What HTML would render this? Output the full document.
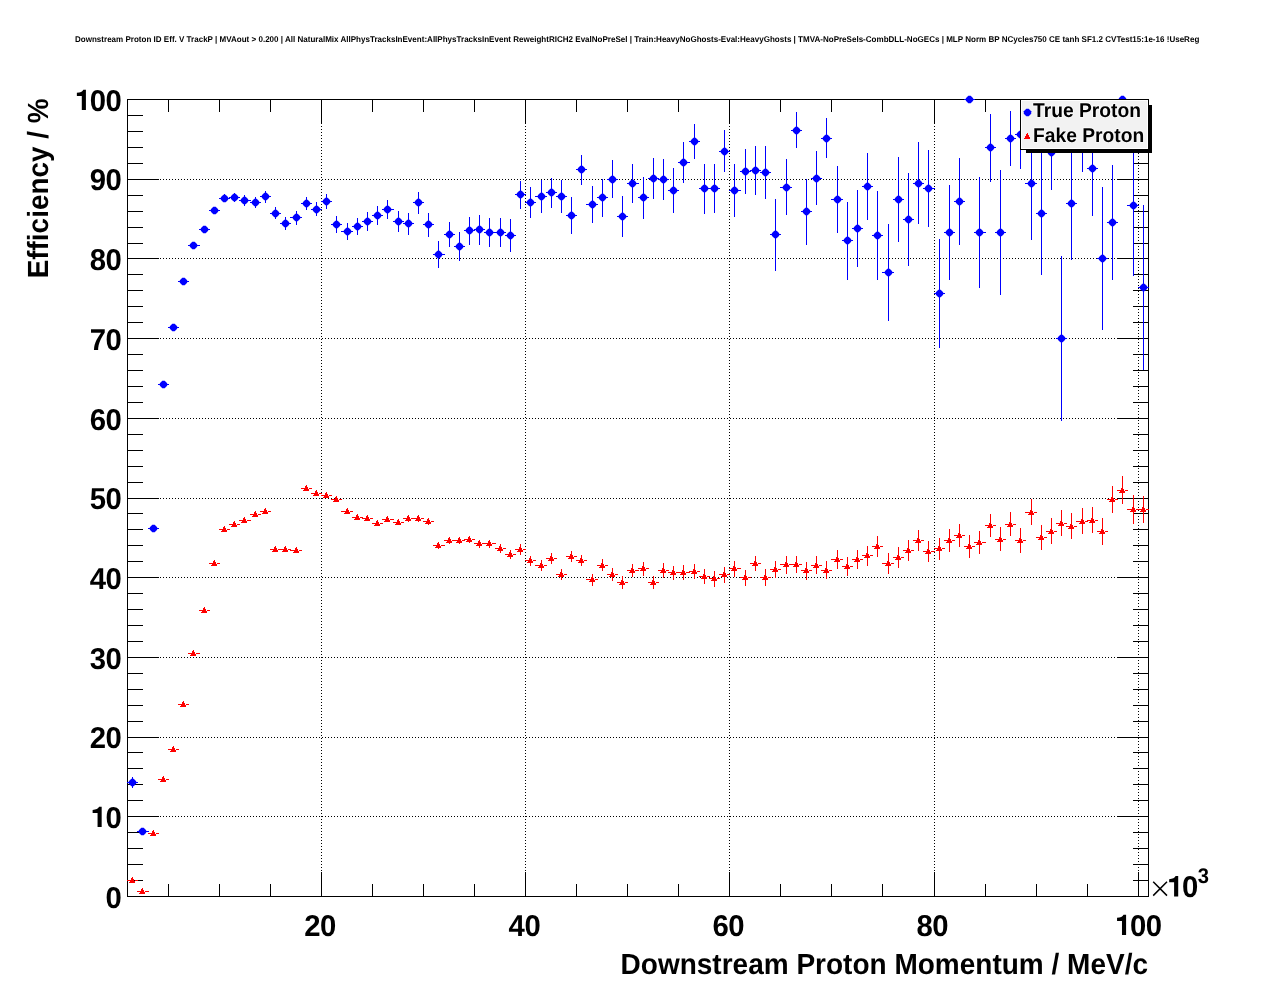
<!DOCTYPE html>
<html><head><meta charset="utf-8"><title>plot</title>
<style>html,body{margin:0;padding:0;background:#fff;overflow:hidden}body{width:1276px;height:996px;position:relative;font-family:"Liberation Sans",sans-serif}</style>
</head><body>
<svg width="1276" height="996" viewBox="0 0 1276 996" style="position:absolute;left:0;top:0;display:block;will-change:transform">
<rect x="0" y="0" width="1276" height="996" fill="#fff"/>
<g stroke="#000" stroke-width="1" stroke-dasharray="1 2" shape-rendering="crispEdges" fill="none"><line x1="321.5" y1="99" x2="321.5" y2="896" /><line x1="525.5" y1="99" x2="525.5" y2="896" /><line x1="729.5" y1="99" x2="729.5" y2="896" /><line x1="934.5" y1="99" x2="934.5" y2="896" /><line x1="1138.5" y1="99" x2="1138.5" y2="896" /><line x1="127" y1="816.5" x2="1148" y2="816.5" /><line x1="127" y1="737.5" x2="1148" y2="737.5" /><line x1="127" y1="657.5" x2="1148" y2="657.5" /><line x1="127" y1="577.5" x2="1148" y2="577.5" /><line x1="127" y1="498.5" x2="1148" y2="498.5" /><line x1="127" y1="418.5" x2="1148" y2="418.5" /><line x1="127" y1="338.5" x2="1148" y2="338.5" /><line x1="127" y1="258.5" x2="1148" y2="258.5" /><line x1="127" y1="179.5" x2="1148" y2="179.5" /></g>
<g shape-rendering="crispEdges"><rect x="127" y="99" width="1022" height="1" fill="#000"/><rect x="127" y="896" width="1022" height="1" fill="#000"/><rect x="127" y="99" width="1" height="798" fill="#000"/><rect x="1148" y="99" width="1" height="798" fill="#000"/><rect x="168" y="884" width="1" height="13" fill="#000"/><rect x="168" y="99" width="1" height="13" fill="#000"/><rect x="219" y="884" width="1" height="13" fill="#000"/><rect x="219" y="99" width="1" height="13" fill="#000"/><rect x="270" y="884" width="1" height="13" fill="#000"/><rect x="270" y="99" width="1" height="13" fill="#000"/><rect x="321" y="872" width="1" height="25" fill="#000"/><rect x="321" y="99" width="1" height="25" fill="#000"/><rect x="372" y="884" width="1" height="13" fill="#000"/><rect x="372" y="99" width="1" height="13" fill="#000"/><rect x="423" y="884" width="1" height="13" fill="#000"/><rect x="423" y="99" width="1" height="13" fill="#000"/><rect x="474" y="884" width="1" height="13" fill="#000"/><rect x="474" y="99" width="1" height="13" fill="#000"/><rect x="525" y="872" width="1" height="25" fill="#000"/><rect x="525" y="99" width="1" height="25" fill="#000"/><rect x="576" y="884" width="1" height="13" fill="#000"/><rect x="576" y="99" width="1" height="13" fill="#000"/><rect x="627" y="884" width="1" height="13" fill="#000"/><rect x="627" y="99" width="1" height="13" fill="#000"/><rect x="678" y="884" width="1" height="13" fill="#000"/><rect x="678" y="99" width="1" height="13" fill="#000"/><rect x="729" y="872" width="1" height="25" fill="#000"/><rect x="729" y="99" width="1" height="25" fill="#000"/><rect x="780" y="884" width="1" height="13" fill="#000"/><rect x="780" y="99" width="1" height="13" fill="#000"/><rect x="831" y="884" width="1" height="13" fill="#000"/><rect x="831" y="99" width="1" height="13" fill="#000"/><rect x="882" y="884" width="1" height="13" fill="#000"/><rect x="882" y="99" width="1" height="13" fill="#000"/><rect x="934" y="872" width="1" height="25" fill="#000"/><rect x="934" y="99" width="1" height="25" fill="#000"/><rect x="985" y="884" width="1" height="13" fill="#000"/><rect x="985" y="99" width="1" height="13" fill="#000"/><rect x="1036" y="884" width="1" height="13" fill="#000"/><rect x="1036" y="99" width="1" height="13" fill="#000"/><rect x="1087" y="884" width="1" height="13" fill="#000"/><rect x="1087" y="99" width="1" height="13" fill="#000"/><rect x="1138" y="872" width="1" height="25" fill="#000"/><rect x="1138" y="99" width="1" height="25" fill="#000"/><rect x="127" y="896" width="32" height="1" fill="#000"/><rect x="1117" y="896" width="32" height="1" fill="#000"/><rect x="127" y="880" width="16" height="1" fill="#000"/><rect x="1133" y="880" width="16" height="1" fill="#000"/><rect x="127" y="864" width="16" height="1" fill="#000"/><rect x="1133" y="864" width="16" height="1" fill="#000"/><rect x="127" y="848" width="16" height="1" fill="#000"/><rect x="1133" y="848" width="16" height="1" fill="#000"/><rect x="127" y="832" width="16" height="1" fill="#000"/><rect x="1133" y="832" width="16" height="1" fill="#000"/><rect x="127" y="816" width="32" height="1" fill="#000"/><rect x="1117" y="816" width="32" height="1" fill="#000"/><rect x="127" y="800" width="16" height="1" fill="#000"/><rect x="1133" y="800" width="16" height="1" fill="#000"/><rect x="127" y="784" width="16" height="1" fill="#000"/><rect x="1133" y="784" width="16" height="1" fill="#000"/><rect x="127" y="768" width="16" height="1" fill="#000"/><rect x="1133" y="768" width="16" height="1" fill="#000"/><rect x="127" y="752" width="16" height="1" fill="#000"/><rect x="1133" y="752" width="16" height="1" fill="#000"/><rect x="127" y="737" width="32" height="1" fill="#000"/><rect x="1117" y="737" width="32" height="1" fill="#000"/><rect x="127" y="721" width="16" height="1" fill="#000"/><rect x="1133" y="721" width="16" height="1" fill="#000"/><rect x="127" y="705" width="16" height="1" fill="#000"/><rect x="1133" y="705" width="16" height="1" fill="#000"/><rect x="127" y="689" width="16" height="1" fill="#000"/><rect x="1133" y="689" width="16" height="1" fill="#000"/><rect x="127" y="673" width="16" height="1" fill="#000"/><rect x="1133" y="673" width="16" height="1" fill="#000"/><rect x="127" y="657" width="32" height="1" fill="#000"/><rect x="1117" y="657" width="32" height="1" fill="#000"/><rect x="127" y="641" width="16" height="1" fill="#000"/><rect x="1133" y="641" width="16" height="1" fill="#000"/><rect x="127" y="625" width="16" height="1" fill="#000"/><rect x="1133" y="625" width="16" height="1" fill="#000"/><rect x="127" y="609" width="16" height="1" fill="#000"/><rect x="1133" y="609" width="16" height="1" fill="#000"/><rect x="127" y="593" width="16" height="1" fill="#000"/><rect x="1133" y="593" width="16" height="1" fill="#000"/><rect x="127" y="577" width="32" height="1" fill="#000"/><rect x="1117" y="577" width="32" height="1" fill="#000"/><rect x="127" y="561" width="16" height="1" fill="#000"/><rect x="1133" y="561" width="16" height="1" fill="#000"/><rect x="127" y="545" width="16" height="1" fill="#000"/><rect x="1133" y="545" width="16" height="1" fill="#000"/><rect x="127" y="529" width="16" height="1" fill="#000"/><rect x="1133" y="529" width="16" height="1" fill="#000"/><rect x="127" y="513" width="16" height="1" fill="#000"/><rect x="1133" y="513" width="16" height="1" fill="#000"/><rect x="127" y="498" width="32" height="1" fill="#000"/><rect x="1117" y="498" width="32" height="1" fill="#000"/><rect x="127" y="482" width="16" height="1" fill="#000"/><rect x="1133" y="482" width="16" height="1" fill="#000"/><rect x="127" y="466" width="16" height="1" fill="#000"/><rect x="1133" y="466" width="16" height="1" fill="#000"/><rect x="127" y="450" width="16" height="1" fill="#000"/><rect x="1133" y="450" width="16" height="1" fill="#000"/><rect x="127" y="434" width="16" height="1" fill="#000"/><rect x="1133" y="434" width="16" height="1" fill="#000"/><rect x="127" y="418" width="32" height="1" fill="#000"/><rect x="1117" y="418" width="32" height="1" fill="#000"/><rect x="127" y="402" width="16" height="1" fill="#000"/><rect x="1133" y="402" width="16" height="1" fill="#000"/><rect x="127" y="386" width="16" height="1" fill="#000"/><rect x="1133" y="386" width="16" height="1" fill="#000"/><rect x="127" y="370" width="16" height="1" fill="#000"/><rect x="1133" y="370" width="16" height="1" fill="#000"/><rect x="127" y="354" width="16" height="1" fill="#000"/><rect x="1133" y="354" width="16" height="1" fill="#000"/><rect x="127" y="338" width="32" height="1" fill="#000"/><rect x="1117" y="338" width="32" height="1" fill="#000"/><rect x="127" y="322" width="16" height="1" fill="#000"/><rect x="1133" y="322" width="16" height="1" fill="#000"/><rect x="127" y="306" width="16" height="1" fill="#000"/><rect x="1133" y="306" width="16" height="1" fill="#000"/><rect x="127" y="290" width="16" height="1" fill="#000"/><rect x="1133" y="290" width="16" height="1" fill="#000"/><rect x="127" y="274" width="16" height="1" fill="#000"/><rect x="1133" y="274" width="16" height="1" fill="#000"/><rect x="127" y="258" width="32" height="1" fill="#000"/><rect x="1117" y="258" width="32" height="1" fill="#000"/><rect x="127" y="243" width="16" height="1" fill="#000"/><rect x="1133" y="243" width="16" height="1" fill="#000"/><rect x="127" y="227" width="16" height="1" fill="#000"/><rect x="1133" y="227" width="16" height="1" fill="#000"/><rect x="127" y="211" width="16" height="1" fill="#000"/><rect x="1133" y="211" width="16" height="1" fill="#000"/><rect x="127" y="195" width="16" height="1" fill="#000"/><rect x="1133" y="195" width="16" height="1" fill="#000"/><rect x="127" y="179" width="32" height="1" fill="#000"/><rect x="1117" y="179" width="32" height="1" fill="#000"/><rect x="127" y="163" width="16" height="1" fill="#000"/><rect x="1133" y="163" width="16" height="1" fill="#000"/><rect x="127" y="147" width="16" height="1" fill="#000"/><rect x="1133" y="147" width="16" height="1" fill="#000"/><rect x="127" y="131" width="16" height="1" fill="#000"/><rect x="1133" y="131" width="16" height="1" fill="#000"/><rect x="127" y="115" width="16" height="1" fill="#000"/><rect x="1133" y="115" width="16" height="1" fill="#000"/><rect x="127" y="99" width="32" height="1" fill="#000"/><rect x="1117" y="99" width="32" height="1" fill="#000"/></g>
<g shape-rendering="crispEdges"><rect x="127" y="782" width="11" height="1" fill="#0000ff"/><rect x="132" y="777" width="1" height="11" fill="#0000ff"/><rect x="137" y="831" width="12" height="1" fill="#0000ff"/><rect x="142" y="828" width="1" height="6" fill="#0000ff"/><rect x="148" y="528" width="11" height="1" fill="#0000ff"/><rect x="153" y="525" width="1" height="6" fill="#0000ff"/><rect x="158" y="384" width="11" height="1" fill="#0000ff"/><rect x="163" y="381" width="1" height="6" fill="#0000ff"/><rect x="168" y="327" width="11" height="1" fill="#0000ff"/><rect x="173" y="325" width="1" height="6" fill="#0000ff"/><rect x="178" y="281" width="11" height="1" fill="#0000ff"/><rect x="183" y="279" width="1" height="6" fill="#0000ff"/><rect x="188" y="245" width="12" height="1" fill="#0000ff"/><rect x="193" y="243" width="1" height="6" fill="#0000ff"/><rect x="199" y="229" width="11" height="1" fill="#0000ff"/><rect x="204" y="227" width="1" height="6" fill="#0000ff"/><rect x="209" y="210" width="11" height="1" fill="#0000ff"/><rect x="214" y="207" width="1" height="7" fill="#0000ff"/><rect x="219" y="198" width="11" height="1" fill="#0000ff"/><rect x="224" y="194" width="1" height="8" fill="#0000ff"/><rect x="229" y="197" width="11" height="1" fill="#0000ff"/><rect x="234" y="193" width="1" height="9" fill="#0000ff"/><rect x="239" y="200" width="12" height="1" fill="#0000ff"/><rect x="244" y="195" width="1" height="11" fill="#0000ff"/><rect x="250" y="202" width="11" height="1" fill="#0000ff"/><rect x="255" y="197" width="1" height="11" fill="#0000ff"/><rect x="260" y="196" width="11" height="1" fill="#0000ff"/><rect x="265" y="191" width="1" height="12" fill="#0000ff"/><rect x="270" y="213" width="11" height="1" fill="#0000ff"/><rect x="275" y="207" width="1" height="12" fill="#0000ff"/><rect x="280" y="223" width="11" height="1" fill="#0000ff"/><rect x="285" y="217" width="1" height="13" fill="#0000ff"/><rect x="290" y="217" width="12" height="1" fill="#0000ff"/><rect x="296" y="211" width="1" height="14" fill="#0000ff"/><rect x="301" y="203" width="11" height="1" fill="#0000ff"/><rect x="306" y="197" width="1" height="13" fill="#0000ff"/><rect x="311" y="209" width="11" height="1" fill="#0000ff"/><rect x="316" y="202" width="1" height="14" fill="#0000ff"/><rect x="321" y="201" width="11" height="1" fill="#0000ff"/><rect x="326" y="194" width="1" height="15" fill="#0000ff"/><rect x="331" y="224" width="11" height="1" fill="#0000ff"/><rect x="336" y="216" width="1" height="17" fill="#0000ff"/><rect x="341" y="231" width="12" height="1" fill="#0000ff"/><rect x="347" y="223" width="1" height="17" fill="#0000ff"/><rect x="352" y="226" width="11" height="1" fill="#0000ff"/><rect x="357" y="218" width="1" height="17" fill="#0000ff"/><rect x="362" y="221" width="11" height="1" fill="#0000ff"/><rect x="367" y="212" width="1" height="19" fill="#0000ff"/><rect x="372" y="215" width="11" height="1" fill="#0000ff"/><rect x="377" y="206" width="1" height="19" fill="#0000ff"/><rect x="382" y="209" width="12" height="1" fill="#0000ff"/><rect x="387" y="200" width="1" height="19" fill="#0000ff"/><rect x="393" y="221" width="11" height="1" fill="#0000ff"/><rect x="398" y="211" width="1" height="21" fill="#0000ff"/><rect x="403" y="223" width="11" height="1" fill="#0000ff"/><rect x="408" y="213" width="1" height="22" fill="#0000ff"/><rect x="413" y="202" width="11" height="1" fill="#0000ff"/><rect x="418" y="192" width="1" height="22" fill="#0000ff"/><rect x="423" y="224" width="11" height="1" fill="#0000ff"/><rect x="428" y="213" width="1" height="24" fill="#0000ff"/><rect x="433" y="254" width="12" height="1" fill="#0000ff"/><rect x="438" y="241" width="1" height="27" fill="#0000ff"/><rect x="444" y="234" width="11" height="1" fill="#0000ff"/><rect x="449" y="222" width="1" height="25" fill="#0000ff"/><rect x="454" y="246" width="11" height="1" fill="#0000ff"/><rect x="459" y="232" width="1" height="29" fill="#0000ff"/><rect x="464" y="230" width="11" height="1" fill="#0000ff"/><rect x="469" y="217" width="1" height="28" fill="#0000ff"/><rect x="474" y="229" width="11" height="1" fill="#0000ff"/><rect x="479" y="215" width="1" height="30" fill="#0000ff"/><rect x="484" y="232" width="12" height="1" fill="#0000ff"/><rect x="489" y="218" width="1" height="29" fill="#0000ff"/><rect x="495" y="232" width="11" height="1" fill="#0000ff"/><rect x="500" y="218" width="1" height="29" fill="#0000ff"/><rect x="505" y="235" width="11" height="1" fill="#0000ff"/><rect x="510" y="219" width="1" height="33" fill="#0000ff"/><rect x="515" y="194" width="11" height="1" fill="#0000ff"/><rect x="520" y="181" width="1" height="28" fill="#0000ff"/><rect x="525" y="202" width="11" height="1" fill="#0000ff"/><rect x="530" y="187" width="1" height="31" fill="#0000ff"/><rect x="535" y="196" width="12" height="1" fill="#0000ff"/><rect x="541" y="180" width="1" height="33" fill="#0000ff"/><rect x="546" y="192" width="11" height="1" fill="#0000ff"/><rect x="551" y="178" width="1" height="30" fill="#0000ff"/><rect x="556" y="196" width="11" height="1" fill="#0000ff"/><rect x="561" y="180" width="1" height="33" fill="#0000ff"/><rect x="566" y="215" width="11" height="1" fill="#0000ff"/><rect x="571" y="197" width="1" height="37" fill="#0000ff"/><rect x="576" y="169" width="11" height="1" fill="#0000ff"/><rect x="581" y="155" width="1" height="30" fill="#0000ff"/><rect x="586" y="204" width="12" height="1" fill="#0000ff"/><rect x="592" y="186" width="1" height="37" fill="#0000ff"/><rect x="597" y="197" width="11" height="1" fill="#0000ff"/><rect x="602" y="179" width="1" height="38" fill="#0000ff"/><rect x="607" y="179" width="11" height="1" fill="#0000ff"/><rect x="612" y="160" width="1" height="38" fill="#0000ff"/><rect x="617" y="216" width="11" height="1" fill="#0000ff"/><rect x="622" y="196" width="1" height="41" fill="#0000ff"/><rect x="627" y="183" width="12" height="1" fill="#0000ff"/><rect x="632" y="164" width="1" height="39" fill="#0000ff"/><rect x="638" y="197" width="11" height="1" fill="#0000ff"/><rect x="643" y="177" width="1" height="42" fill="#0000ff"/><rect x="648" y="178" width="11" height="1" fill="#0000ff"/><rect x="653" y="158" width="1" height="41" fill="#0000ff"/><rect x="658" y="179" width="11" height="1" fill="#0000ff"/><rect x="663" y="159" width="1" height="41" fill="#0000ff"/><rect x="668" y="190" width="11" height="1" fill="#0000ff"/><rect x="673" y="168" width="1" height="45" fill="#0000ff"/><rect x="678" y="162" width="12" height="1" fill="#0000ff"/><rect x="683" y="142" width="1" height="41" fill="#0000ff"/><rect x="689" y="141" width="11" height="1" fill="#0000ff"/><rect x="694" y="124" width="1" height="35" fill="#0000ff"/><rect x="699" y="188" width="11" height="1" fill="#0000ff"/><rect x="704" y="164" width="1" height="50" fill="#0000ff"/><rect x="709" y="188" width="11" height="1" fill="#0000ff"/><rect x="714" y="164" width="1" height="49" fill="#0000ff"/><rect x="719" y="151" width="11" height="1" fill="#0000ff"/><rect x="724" y="130" width="1" height="42" fill="#0000ff"/><rect x="729" y="190" width="12" height="1" fill="#0000ff"/><rect x="734" y="164" width="1" height="53" fill="#0000ff"/><rect x="740" y="171" width="11" height="1" fill="#0000ff"/><rect x="745" y="149" width="1" height="45" fill="#0000ff"/><rect x="750" y="170" width="11" height="1" fill="#0000ff"/><rect x="755" y="146" width="1" height="49" fill="#0000ff"/><rect x="760" y="172" width="11" height="1" fill="#0000ff"/><rect x="765" y="146" width="1" height="53" fill="#0000ff"/><rect x="770" y="234" width="11" height="1" fill="#0000ff"/><rect x="775" y="199" width="1" height="72" fill="#0000ff"/><rect x="780" y="187" width="12" height="1" fill="#0000ff"/><rect x="786" y="159" width="1" height="56" fill="#0000ff"/><rect x="791" y="130" width="11" height="1" fill="#0000ff"/><rect x="796" y="112" width="1" height="36" fill="#0000ff"/><rect x="801" y="211" width="11" height="1" fill="#0000ff"/><rect x="806" y="179" width="1" height="66" fill="#0000ff"/><rect x="811" y="178" width="11" height="1" fill="#0000ff"/><rect x="816" y="151" width="1" height="54" fill="#0000ff"/><rect x="821" y="138" width="11" height="1" fill="#0000ff"/><rect x="826" y="118" width="1" height="40" fill="#0000ff"/><rect x="831" y="199" width="12" height="1" fill="#0000ff"/><rect x="837" y="166" width="1" height="67" fill="#0000ff"/><rect x="842" y="240" width="11" height="1" fill="#0000ff"/><rect x="847" y="202" width="1" height="78" fill="#0000ff"/><rect x="852" y="228" width="11" height="1" fill="#0000ff"/><rect x="857" y="190" width="1" height="77" fill="#0000ff"/><rect x="862" y="186" width="11" height="1" fill="#0000ff"/><rect x="867" y="153" width="1" height="67" fill="#0000ff"/><rect x="872" y="235" width="11" height="1" fill="#0000ff"/><rect x="877" y="191" width="1" height="89" fill="#0000ff"/><rect x="882" y="272" width="12" height="1" fill="#0000ff"/><rect x="888" y="224" width="1" height="97" fill="#0000ff"/><rect x="893" y="199" width="11" height="1" fill="#0000ff"/><rect x="898" y="157" width="1" height="85" fill="#0000ff"/><rect x="903" y="219" width="11" height="1" fill="#0000ff"/><rect x="908" y="173" width="1" height="93" fill="#0000ff"/><rect x="913" y="183" width="11" height="1" fill="#0000ff"/><rect x="918" y="142" width="1" height="82" fill="#0000ff"/><rect x="923" y="188" width="12" height="1" fill="#0000ff"/><rect x="928" y="150" width="1" height="77" fill="#0000ff"/><rect x="934" y="293" width="11" height="1" fill="#0000ff"/><rect x="939" y="239" width="1" height="109" fill="#0000ff"/><rect x="944" y="232" width="11" height="1" fill="#0000ff"/><rect x="949" y="185" width="1" height="95" fill="#0000ff"/><rect x="954" y="201" width="11" height="1" fill="#0000ff"/><rect x="959" y="158" width="1" height="87" fill="#0000ff"/><rect x="964" y="99" width="11" height="1" fill="#0000ff"/><rect x="974" y="232" width="12" height="1" fill="#0000ff"/><rect x="979" y="177" width="1" height="111" fill="#0000ff"/><rect x="985" y="147" width="11" height="1" fill="#0000ff"/><rect x="990" y="114" width="1" height="68" fill="#0000ff"/><rect x="995" y="232" width="11" height="1" fill="#0000ff"/><rect x="1000" y="170" width="1" height="125" fill="#0000ff"/><rect x="1005" y="138" width="11" height="1" fill="#0000ff"/><rect x="1010" y="111" width="1" height="55" fill="#0000ff"/><rect x="1015" y="134" width="11" height="1" fill="#0000ff"/><rect x="1020" y="99" width="1" height="70" fill="#0000ff"/><rect x="1025" y="183" width="12" height="1" fill="#0000ff"/><rect x="1031" y="126" width="1" height="114" fill="#0000ff"/><rect x="1036" y="213" width="11" height="1" fill="#0000ff"/><rect x="1041" y="152" width="1" height="123" fill="#0000ff"/><rect x="1046" y="152" width="11" height="1" fill="#0000ff"/><rect x="1051" y="116" width="1" height="74" fill="#0000ff"/><rect x="1056" y="338" width="11" height="1" fill="#0000ff"/><rect x="1061" y="256" width="1" height="165" fill="#0000ff"/><rect x="1066" y="203" width="11" height="1" fill="#0000ff"/><rect x="1071" y="147" width="1" height="113" fill="#0000ff"/><rect x="1076" y="132" width="12" height="1" fill="#0000ff"/><rect x="1082" y="99" width="1" height="73" fill="#0000ff"/><rect x="1087" y="168" width="11" height="1" fill="#0000ff"/><rect x="1092" y="120" width="1" height="96" fill="#0000ff"/><rect x="1097" y="258" width="11" height="1" fill="#0000ff"/><rect x="1102" y="187" width="1" height="143" fill="#0000ff"/><rect x="1107" y="222" width="11" height="1" fill="#0000ff"/><rect x="1112" y="165" width="1" height="115" fill="#0000ff"/><rect x="1117" y="99" width="11" height="1" fill="#0000ff"/><rect x="1127" y="205" width="12" height="1" fill="#0000ff"/><rect x="1133" y="135" width="1" height="141" fill="#0000ff"/><rect x="1138" y="287" width="11" height="1" fill="#0000ff"/><rect x="1143" y="205" width="1" height="165" fill="#0000ff"/><rect x="127" y="880" width="3" height="1" fill="#ff0000"/><rect x="135" y="880" width="3" height="1" fill="#ff0000"/><rect x="132" y="878" width="1" height="5" fill="#ff0000"/><rect x="137" y="891" width="3" height="1" fill="#ff0000"/><rect x="145" y="891" width="4" height="1" fill="#ff0000"/><rect x="142" y="890" width="1" height="3" fill="#ff0000"/><rect x="148" y="833" width="3" height="1" fill="#ff0000"/><rect x="156" y="833" width="3" height="1" fill="#ff0000"/><rect x="153" y="832" width="1" height="4" fill="#ff0000"/><rect x="158" y="779" width="3" height="1" fill="#ff0000"/><rect x="166" y="779" width="3" height="1" fill="#ff0000"/><rect x="163" y="777" width="1" height="5" fill="#ff0000"/><rect x="168" y="749" width="3" height="1" fill="#ff0000"/><rect x="176" y="749" width="3" height="1" fill="#ff0000"/><rect x="173" y="747" width="1" height="5" fill="#ff0000"/><rect x="178" y="704" width="3" height="1" fill="#ff0000"/><rect x="186" y="704" width="3" height="1" fill="#ff0000"/><rect x="183" y="702" width="1" height="5" fill="#ff0000"/><rect x="188" y="653" width="3" height="1" fill="#ff0000"/><rect x="196" y="653" width="4" height="1" fill="#ff0000"/><rect x="193" y="651" width="1" height="4" fill="#ff0000"/><rect x="199" y="610" width="3" height="1" fill="#ff0000"/><rect x="207" y="610" width="3" height="1" fill="#ff0000"/><rect x="204" y="608" width="1" height="5" fill="#ff0000"/><rect x="209" y="563" width="3" height="1" fill="#ff0000"/><rect x="217" y="563" width="3" height="1" fill="#ff0000"/><rect x="214" y="561" width="1" height="5" fill="#ff0000"/><rect x="219" y="529" width="3" height="1" fill="#ff0000"/><rect x="227" y="529" width="3" height="1" fill="#ff0000"/><rect x="224" y="527" width="1" height="4" fill="#ff0000"/><rect x="229" y="524" width="3" height="1" fill="#ff0000"/><rect x="237" y="524" width="3" height="1" fill="#ff0000"/><rect x="234" y="522" width="1" height="4" fill="#ff0000"/><rect x="239" y="520" width="3" height="1" fill="#ff0000"/><rect x="247" y="520" width="4" height="1" fill="#ff0000"/><rect x="244" y="518" width="1" height="4" fill="#ff0000"/><rect x="250" y="514" width="3" height="1" fill="#ff0000"/><rect x="258" y="514" width="3" height="1" fill="#ff0000"/><rect x="255" y="512" width="1" height="4" fill="#ff0000"/><rect x="260" y="511" width="3" height="1" fill="#ff0000"/><rect x="268" y="511" width="3" height="1" fill="#ff0000"/><rect x="265" y="509" width="1" height="4" fill="#ff0000"/><rect x="270" y="549" width="3" height="1" fill="#ff0000"/><rect x="278" y="549" width="3" height="1" fill="#ff0000"/><rect x="275" y="547" width="1" height="5" fill="#ff0000"/><rect x="280" y="549" width="3" height="1" fill="#ff0000"/><rect x="288" y="549" width="3" height="1" fill="#ff0000"/><rect x="285" y="547" width="1" height="5" fill="#ff0000"/><rect x="290" y="550" width="4" height="1" fill="#ff0000"/><rect x="299" y="550" width="3" height="1" fill="#ff0000"/><rect x="296" y="548" width="1" height="5" fill="#ff0000"/><rect x="301" y="488" width="3" height="1" fill="#ff0000"/><rect x="309" y="488" width="3" height="1" fill="#ff0000"/><rect x="306" y="486" width="1" height="5" fill="#ff0000"/><rect x="311" y="493" width="3" height="1" fill="#ff0000"/><rect x="319" y="493" width="3" height="1" fill="#ff0000"/><rect x="316" y="491" width="1" height="5" fill="#ff0000"/><rect x="321" y="495" width="3" height="1" fill="#ff0000"/><rect x="329" y="495" width="3" height="1" fill="#ff0000"/><rect x="326" y="493" width="1" height="4" fill="#ff0000"/><rect x="331" y="499" width="3" height="1" fill="#ff0000"/><rect x="339" y="499" width="3" height="1" fill="#ff0000"/><rect x="336" y="497" width="1" height="5" fill="#ff0000"/><rect x="341" y="511" width="4" height="1" fill="#ff0000"/><rect x="350" y="511" width="3" height="1" fill="#ff0000"/><rect x="347" y="509" width="1" height="5" fill="#ff0000"/><rect x="352" y="517" width="3" height="1" fill="#ff0000"/><rect x="360" y="517" width="3" height="1" fill="#ff0000"/><rect x="357" y="515" width="1" height="5" fill="#ff0000"/><rect x="362" y="518" width="3" height="1" fill="#ff0000"/><rect x="370" y="518" width="3" height="1" fill="#ff0000"/><rect x="367" y="516" width="1" height="5" fill="#ff0000"/><rect x="372" y="523" width="3" height="1" fill="#ff0000"/><rect x="380" y="523" width="3" height="1" fill="#ff0000"/><rect x="377" y="521" width="1" height="5" fill="#ff0000"/><rect x="382" y="519" width="3" height="1" fill="#ff0000"/><rect x="390" y="519" width="4" height="1" fill="#ff0000"/><rect x="387" y="517" width="1" height="5" fill="#ff0000"/><rect x="393" y="522" width="3" height="1" fill="#ff0000"/><rect x="401" y="522" width="3" height="1" fill="#ff0000"/><rect x="398" y="520" width="1" height="5" fill="#ff0000"/><rect x="403" y="518" width="3" height="1" fill="#ff0000"/><rect x="411" y="518" width="3" height="1" fill="#ff0000"/><rect x="408" y="516" width="1" height="6" fill="#ff0000"/><rect x="413" y="518" width="3" height="1" fill="#ff0000"/><rect x="421" y="518" width="3" height="1" fill="#ff0000"/><rect x="418" y="516" width="1" height="6" fill="#ff0000"/><rect x="423" y="521" width="3" height="1" fill="#ff0000"/><rect x="431" y="521" width="3" height="1" fill="#ff0000"/><rect x="428" y="519" width="1" height="6" fill="#ff0000"/><rect x="433" y="545" width="3" height="1" fill="#ff0000"/><rect x="441" y="545" width="4" height="1" fill="#ff0000"/><rect x="438" y="542" width="1" height="7" fill="#ff0000"/><rect x="444" y="540" width="3" height="1" fill="#ff0000"/><rect x="452" y="540" width="3" height="1" fill="#ff0000"/><rect x="449" y="537" width="1" height="7" fill="#ff0000"/><rect x="454" y="540" width="3" height="1" fill="#ff0000"/><rect x="462" y="540" width="3" height="1" fill="#ff0000"/><rect x="459" y="537" width="1" height="7" fill="#ff0000"/><rect x="464" y="539" width="3" height="1" fill="#ff0000"/><rect x="472" y="539" width="3" height="1" fill="#ff0000"/><rect x="469" y="536" width="1" height="7" fill="#ff0000"/><rect x="474" y="543" width="3" height="1" fill="#ff0000"/><rect x="482" y="543" width="3" height="1" fill="#ff0000"/><rect x="479" y="540" width="1" height="8" fill="#ff0000"/><rect x="484" y="543" width="3" height="1" fill="#ff0000"/><rect x="492" y="543" width="4" height="1" fill="#ff0000"/><rect x="489" y="540" width="1" height="8" fill="#ff0000"/><rect x="495" y="548" width="3" height="1" fill="#ff0000"/><rect x="503" y="548" width="3" height="1" fill="#ff0000"/><rect x="500" y="544" width="1" height="9" fill="#ff0000"/><rect x="505" y="554" width="3" height="1" fill="#ff0000"/><rect x="513" y="554" width="3" height="1" fill="#ff0000"/><rect x="510" y="550" width="1" height="9" fill="#ff0000"/><rect x="515" y="549" width="3" height="1" fill="#ff0000"/><rect x="523" y="549" width="3" height="1" fill="#ff0000"/><rect x="520" y="544" width="1" height="11" fill="#ff0000"/><rect x="525" y="560" width="3" height="1" fill="#ff0000"/><rect x="533" y="560" width="3" height="1" fill="#ff0000"/><rect x="530" y="556" width="1" height="10" fill="#ff0000"/><rect x="535" y="565" width="4" height="1" fill="#ff0000"/><rect x="544" y="565" width="3" height="1" fill="#ff0000"/><rect x="541" y="560" width="1" height="11" fill="#ff0000"/><rect x="546" y="558" width="3" height="1" fill="#ff0000"/><rect x="554" y="558" width="3" height="1" fill="#ff0000"/><rect x="551" y="553" width="1" height="11" fill="#ff0000"/><rect x="556" y="574" width="3" height="1" fill="#ff0000"/><rect x="564" y="574" width="3" height="1" fill="#ff0000"/><rect x="561" y="569" width="1" height="11" fill="#ff0000"/><rect x="566" y="556" width="3" height="1" fill="#ff0000"/><rect x="574" y="556" width="3" height="1" fill="#ff0000"/><rect x="571" y="551" width="1" height="11" fill="#ff0000"/><rect x="576" y="560" width="3" height="1" fill="#ff0000"/><rect x="584" y="560" width="3" height="1" fill="#ff0000"/><rect x="581" y="555" width="1" height="11" fill="#ff0000"/><rect x="586" y="579" width="4" height="1" fill="#ff0000"/><rect x="595" y="579" width="3" height="1" fill="#ff0000"/><rect x="592" y="574" width="1" height="12" fill="#ff0000"/><rect x="597" y="565" width="3" height="1" fill="#ff0000"/><rect x="605" y="565" width="3" height="1" fill="#ff0000"/><rect x="602" y="559" width="1" height="12" fill="#ff0000"/><rect x="607" y="574" width="3" height="1" fill="#ff0000"/><rect x="615" y="574" width="3" height="1" fill="#ff0000"/><rect x="612" y="568" width="1" height="13" fill="#ff0000"/><rect x="617" y="582" width="3" height="1" fill="#ff0000"/><rect x="625" y="582" width="3" height="1" fill="#ff0000"/><rect x="622" y="576" width="1" height="13" fill="#ff0000"/><rect x="627" y="570" width="3" height="1" fill="#ff0000"/><rect x="635" y="570" width="4" height="1" fill="#ff0000"/><rect x="632" y="564" width="1" height="13" fill="#ff0000"/><rect x="638" y="568" width="3" height="1" fill="#ff0000"/><rect x="646" y="568" width="3" height="1" fill="#ff0000"/><rect x="643" y="562" width="1" height="14" fill="#ff0000"/><rect x="648" y="582" width="3" height="1" fill="#ff0000"/><rect x="656" y="582" width="3" height="1" fill="#ff0000"/><rect x="653" y="576" width="1" height="13" fill="#ff0000"/><rect x="658" y="570" width="3" height="1" fill="#ff0000"/><rect x="666" y="570" width="3" height="1" fill="#ff0000"/><rect x="663" y="563" width="1" height="15" fill="#ff0000"/><rect x="668" y="572" width="3" height="1" fill="#ff0000"/><rect x="676" y="572" width="3" height="1" fill="#ff0000"/><rect x="673" y="566" width="1" height="14" fill="#ff0000"/><rect x="678" y="572" width="3" height="1" fill="#ff0000"/><rect x="686" y="572" width="4" height="1" fill="#ff0000"/><rect x="683" y="565" width="1" height="15" fill="#ff0000"/><rect x="689" y="571" width="3" height="1" fill="#ff0000"/><rect x="697" y="571" width="3" height="1" fill="#ff0000"/><rect x="694" y="564" width="1" height="15" fill="#ff0000"/><rect x="699" y="576" width="3" height="1" fill="#ff0000"/><rect x="707" y="576" width="3" height="1" fill="#ff0000"/><rect x="704" y="569" width="1" height="15" fill="#ff0000"/><rect x="709" y="578" width="3" height="1" fill="#ff0000"/><rect x="717" y="578" width="3" height="1" fill="#ff0000"/><rect x="714" y="571" width="1" height="16" fill="#ff0000"/><rect x="719" y="574" width="3" height="1" fill="#ff0000"/><rect x="727" y="574" width="3" height="1" fill="#ff0000"/><rect x="724" y="567" width="1" height="16" fill="#ff0000"/><rect x="729" y="568" width="3" height="1" fill="#ff0000"/><rect x="737" y="568" width="4" height="1" fill="#ff0000"/><rect x="734" y="561" width="1" height="16" fill="#ff0000"/><rect x="740" y="577" width="3" height="1" fill="#ff0000"/><rect x="748" y="577" width="3" height="1" fill="#ff0000"/><rect x="745" y="570" width="1" height="16" fill="#ff0000"/><rect x="750" y="563" width="3" height="1" fill="#ff0000"/><rect x="758" y="563" width="3" height="1" fill="#ff0000"/><rect x="755" y="556" width="1" height="15" fill="#ff0000"/><rect x="760" y="577" width="3" height="1" fill="#ff0000"/><rect x="768" y="577" width="3" height="1" fill="#ff0000"/><rect x="765" y="569" width="1" height="17" fill="#ff0000"/><rect x="770" y="569" width="3" height="1" fill="#ff0000"/><rect x="778" y="569" width="3" height="1" fill="#ff0000"/><rect x="775" y="561" width="1" height="17" fill="#ff0000"/><rect x="780" y="564" width="4" height="1" fill="#ff0000"/><rect x="789" y="564" width="3" height="1" fill="#ff0000"/><rect x="786" y="556" width="1" height="18" fill="#ff0000"/><rect x="791" y="564" width="3" height="1" fill="#ff0000"/><rect x="799" y="564" width="3" height="1" fill="#ff0000"/><rect x="796" y="556" width="1" height="17" fill="#ff0000"/><rect x="801" y="570" width="3" height="1" fill="#ff0000"/><rect x="809" y="570" width="3" height="1" fill="#ff0000"/><rect x="806" y="562" width="1" height="18" fill="#ff0000"/><rect x="811" y="565" width="3" height="1" fill="#ff0000"/><rect x="819" y="565" width="3" height="1" fill="#ff0000"/><rect x="816" y="556" width="1" height="18" fill="#ff0000"/><rect x="821" y="570" width="3" height="1" fill="#ff0000"/><rect x="829" y="570" width="3" height="1" fill="#ff0000"/><rect x="826" y="561" width="1" height="18" fill="#ff0000"/><rect x="831" y="559" width="4" height="1" fill="#ff0000"/><rect x="840" y="559" width="3" height="1" fill="#ff0000"/><rect x="837" y="550" width="1" height="19" fill="#ff0000"/><rect x="842" y="566" width="3" height="1" fill="#ff0000"/><rect x="850" y="566" width="3" height="1" fill="#ff0000"/><rect x="847" y="557" width="1" height="19" fill="#ff0000"/><rect x="852" y="559" width="3" height="1" fill="#ff0000"/><rect x="860" y="559" width="3" height="1" fill="#ff0000"/><rect x="857" y="550" width="1" height="19" fill="#ff0000"/><rect x="862" y="555" width="3" height="1" fill="#ff0000"/><rect x="870" y="555" width="3" height="1" fill="#ff0000"/><rect x="867" y="546" width="1" height="20" fill="#ff0000"/><rect x="872" y="546" width="3" height="1" fill="#ff0000"/><rect x="880" y="546" width="3" height="1" fill="#ff0000"/><rect x="877" y="536" width="1" height="21" fill="#ff0000"/><rect x="882" y="563" width="4" height="1" fill="#ff0000"/><rect x="891" y="563" width="3" height="1" fill="#ff0000"/><rect x="888" y="553" width="1" height="21" fill="#ff0000"/><rect x="893" y="557" width="3" height="1" fill="#ff0000"/><rect x="901" y="557" width="3" height="1" fill="#ff0000"/><rect x="898" y="547" width="1" height="21" fill="#ff0000"/><rect x="903" y="550" width="3" height="1" fill="#ff0000"/><rect x="911" y="550" width="3" height="1" fill="#ff0000"/><rect x="908" y="540" width="1" height="21" fill="#ff0000"/><rect x="913" y="540" width="3" height="1" fill="#ff0000"/><rect x="921" y="540" width="3" height="1" fill="#ff0000"/><rect x="918" y="530" width="1" height="21" fill="#ff0000"/><rect x="923" y="551" width="3" height="1" fill="#ff0000"/><rect x="931" y="551" width="4" height="1" fill="#ff0000"/><rect x="928" y="541" width="1" height="21" fill="#ff0000"/><rect x="934" y="548" width="3" height="1" fill="#ff0000"/><rect x="942" y="548" width="3" height="1" fill="#ff0000"/><rect x="939" y="538" width="1" height="22" fill="#ff0000"/><rect x="944" y="540" width="3" height="1" fill="#ff0000"/><rect x="952" y="540" width="3" height="1" fill="#ff0000"/><rect x="949" y="529" width="1" height="23" fill="#ff0000"/><rect x="954" y="535" width="3" height="1" fill="#ff0000"/><rect x="962" y="535" width="3" height="1" fill="#ff0000"/><rect x="959" y="524" width="1" height="23" fill="#ff0000"/><rect x="964" y="546" width="3" height="1" fill="#ff0000"/><rect x="972" y="546" width="3" height="1" fill="#ff0000"/><rect x="969" y="535" width="1" height="23" fill="#ff0000"/><rect x="974" y="542" width="3" height="1" fill="#ff0000"/><rect x="982" y="542" width="4" height="1" fill="#ff0000"/><rect x="979" y="531" width="1" height="23" fill="#ff0000"/><rect x="985" y="525" width="3" height="1" fill="#ff0000"/><rect x="993" y="525" width="3" height="1" fill="#ff0000"/><rect x="990" y="514" width="1" height="23" fill="#ff0000"/><rect x="995" y="539" width="3" height="1" fill="#ff0000"/><rect x="1003" y="539" width="3" height="1" fill="#ff0000"/><rect x="1000" y="527" width="1" height="24" fill="#ff0000"/><rect x="1005" y="524" width="3" height="1" fill="#ff0000"/><rect x="1013" y="524" width="3" height="1" fill="#ff0000"/><rect x="1010" y="512" width="1" height="24" fill="#ff0000"/><rect x="1015" y="540" width="3" height="1" fill="#ff0000"/><rect x="1023" y="540" width="3" height="1" fill="#ff0000"/><rect x="1020" y="528" width="1" height="25" fill="#ff0000"/><rect x="1025" y="512" width="4" height="1" fill="#ff0000"/><rect x="1034" y="512" width="3" height="1" fill="#ff0000"/><rect x="1031" y="499" width="1" height="26" fill="#ff0000"/><rect x="1036" y="537" width="3" height="1" fill="#ff0000"/><rect x="1044" y="537" width="3" height="1" fill="#ff0000"/><rect x="1041" y="525" width="1" height="25" fill="#ff0000"/><rect x="1046" y="531" width="3" height="1" fill="#ff0000"/><rect x="1054" y="531" width="3" height="1" fill="#ff0000"/><rect x="1051" y="518" width="1" height="26" fill="#ff0000"/><rect x="1056" y="523" width="3" height="1" fill="#ff0000"/><rect x="1064" y="523" width="3" height="1" fill="#ff0000"/><rect x="1061" y="510" width="1" height="26" fill="#ff0000"/><rect x="1066" y="526" width="3" height="1" fill="#ff0000"/><rect x="1074" y="526" width="3" height="1" fill="#ff0000"/><rect x="1071" y="513" width="1" height="26" fill="#ff0000"/><rect x="1076" y="521" width="4" height="1" fill="#ff0000"/><rect x="1085" y="521" width="3" height="1" fill="#ff0000"/><rect x="1082" y="508" width="1" height="26" fill="#ff0000"/><rect x="1087" y="520" width="3" height="1" fill="#ff0000"/><rect x="1095" y="520" width="3" height="1" fill="#ff0000"/><rect x="1092" y="507" width="1" height="26" fill="#ff0000"/><rect x="1097" y="531" width="3" height="1" fill="#ff0000"/><rect x="1105" y="531" width="3" height="1" fill="#ff0000"/><rect x="1102" y="518" width="1" height="27" fill="#ff0000"/><rect x="1107" y="499" width="3" height="1" fill="#ff0000"/><rect x="1115" y="499" width="3" height="1" fill="#ff0000"/><rect x="1112" y="486" width="1" height="27" fill="#ff0000"/><rect x="1117" y="490" width="3" height="1" fill="#ff0000"/><rect x="1125" y="490" width="3" height="1" fill="#ff0000"/><rect x="1122" y="476" width="1" height="28" fill="#ff0000"/><rect x="1127" y="509" width="4" height="1" fill="#ff0000"/><rect x="1136" y="509" width="3" height="1" fill="#ff0000"/><rect x="1133" y="495" width="1" height="29" fill="#ff0000"/><rect x="1138" y="509" width="3" height="1" fill="#ff0000"/><rect x="1146" y="509" width="3" height="1" fill="#ff0000"/><rect x="1143" y="496" width="1" height="27" fill="#ff0000"/></g>
<g fill="#0000ff"><path d="M131.30 778.80L133.70 778.80L136.20 781.30L136.20 783.70L133.70 786.20L131.30 786.20L128.80 783.70L128.80 781.30ZM141.30 827.80L143.70 827.80L146.20 830.30L146.20 832.70L143.70 835.20L141.30 835.20L138.80 832.70L138.80 830.30ZM152.30 524.80L154.70 524.80L157.20 527.30L157.20 529.70L154.70 532.20L152.30 532.20L149.80 529.70L149.80 527.30ZM162.30 380.80L164.70 380.80L167.20 383.30L167.20 385.70L164.70 388.20L162.30 388.20L159.80 385.70L159.80 383.30ZM172.30 323.80L174.70 323.80L177.20 326.30L177.20 328.70L174.70 331.20L172.30 331.20L169.80 328.70L169.80 326.30ZM182.30 277.80L184.70 277.80L187.20 280.30L187.20 282.70L184.70 285.20L182.30 285.20L179.80 282.70L179.80 280.30ZM192.30 241.80L194.70 241.80L197.20 244.30L197.20 246.70L194.70 249.20L192.30 249.20L189.80 246.70L189.80 244.30ZM203.30 225.80L205.70 225.80L208.20 228.30L208.20 230.70L205.70 233.20L203.30 233.20L200.80 230.70L200.80 228.30ZM213.30 206.80L215.70 206.80L218.20 209.30L218.20 211.70L215.70 214.20L213.30 214.20L210.80 211.70L210.80 209.30ZM223.30 194.80L225.70 194.80L228.20 197.30L228.20 199.70L225.70 202.20L223.30 202.20L220.80 199.70L220.80 197.30ZM233.30 193.80L235.70 193.80L238.20 196.30L238.20 198.70L235.70 201.20L233.30 201.20L230.80 198.70L230.80 196.30ZM243.30 196.80L245.70 196.80L248.20 199.30L248.20 201.70L245.70 204.20L243.30 204.20L240.80 201.70L240.80 199.30ZM254.30 198.80L256.70 198.80L259.20 201.30L259.20 203.70L256.70 206.20L254.30 206.20L251.80 203.70L251.80 201.30ZM264.30 192.80L266.70 192.80L269.20 195.30L269.20 197.70L266.70 200.20L264.30 200.20L261.80 197.70L261.80 195.30ZM274.30 209.80L276.70 209.80L279.20 212.30L279.20 214.70L276.70 217.20L274.30 217.20L271.80 214.70L271.80 212.30ZM284.30 219.80L286.70 219.80L289.20 222.30L289.20 224.70L286.70 227.20L284.30 227.20L281.80 224.70L281.80 222.30ZM295.30 213.80L297.70 213.80L300.20 216.30L300.20 218.70L297.70 221.20L295.30 221.20L292.80 218.70L292.80 216.30ZM305.30 199.80L307.70 199.80L310.20 202.30L310.20 204.70L307.70 207.20L305.30 207.20L302.80 204.70L302.80 202.30ZM315.30 205.80L317.70 205.80L320.20 208.30L320.20 210.70L317.70 213.20L315.30 213.20L312.80 210.70L312.80 208.30ZM325.30 197.80L327.70 197.80L330.20 200.30L330.20 202.70L327.70 205.20L325.30 205.20L322.80 202.70L322.80 200.30ZM335.30 220.80L337.70 220.80L340.20 223.30L340.20 225.70L337.70 228.20L335.30 228.20L332.80 225.70L332.80 223.30ZM346.30 227.80L348.70 227.80L351.20 230.30L351.20 232.70L348.70 235.20L346.30 235.20L343.80 232.70L343.80 230.30ZM356.30 222.80L358.70 222.80L361.20 225.30L361.20 227.70L358.70 230.20L356.30 230.20L353.80 227.70L353.80 225.30ZM366.30 217.80L368.70 217.80L371.20 220.30L371.20 222.70L368.70 225.20L366.30 225.20L363.80 222.70L363.80 220.30ZM376.30 211.80L378.70 211.80L381.20 214.30L381.20 216.70L378.70 219.20L376.30 219.20L373.80 216.70L373.80 214.30ZM386.30 205.80L388.70 205.80L391.20 208.30L391.20 210.70L388.70 213.20L386.30 213.20L383.80 210.70L383.80 208.30ZM397.30 217.80L399.70 217.80L402.20 220.30L402.20 222.70L399.70 225.20L397.30 225.20L394.80 222.70L394.80 220.30ZM407.30 219.80L409.70 219.80L412.20 222.30L412.20 224.70L409.70 227.20L407.30 227.20L404.80 224.70L404.80 222.30ZM417.30 198.80L419.70 198.80L422.20 201.30L422.20 203.70L419.70 206.20L417.30 206.20L414.80 203.70L414.80 201.30ZM427.30 220.80L429.70 220.80L432.20 223.30L432.20 225.70L429.70 228.20L427.30 228.20L424.80 225.70L424.80 223.30ZM437.30 250.80L439.70 250.80L442.20 253.30L442.20 255.70L439.70 258.20L437.30 258.20L434.80 255.70L434.80 253.30ZM448.30 230.80L450.70 230.80L453.20 233.30L453.20 235.70L450.70 238.20L448.30 238.20L445.80 235.70L445.80 233.30ZM458.30 242.80L460.70 242.80L463.20 245.30L463.20 247.70L460.70 250.20L458.30 250.20L455.80 247.70L455.80 245.30ZM468.30 226.80L470.70 226.80L473.20 229.30L473.20 231.70L470.70 234.20L468.30 234.20L465.80 231.70L465.80 229.30ZM478.30 225.80L480.70 225.80L483.20 228.30L483.20 230.70L480.70 233.20L478.30 233.20L475.80 230.70L475.80 228.30ZM488.30 228.80L490.70 228.80L493.20 231.30L493.20 233.70L490.70 236.20L488.30 236.20L485.80 233.70L485.80 231.30ZM499.30 228.80L501.70 228.80L504.20 231.30L504.20 233.70L501.70 236.20L499.30 236.20L496.80 233.70L496.80 231.30ZM509.30 231.80L511.70 231.80L514.20 234.30L514.20 236.70L511.70 239.20L509.30 239.20L506.80 236.70L506.80 234.30ZM519.30 190.80L521.70 190.80L524.20 193.30L524.20 195.70L521.70 198.20L519.30 198.20L516.80 195.70L516.80 193.30ZM529.30 198.80L531.70 198.80L534.20 201.30L534.20 203.70L531.70 206.20L529.30 206.20L526.80 203.70L526.80 201.30ZM540.30 192.80L542.70 192.80L545.20 195.30L545.20 197.70L542.70 200.20L540.30 200.20L537.80 197.70L537.80 195.30ZM550.30 188.80L552.70 188.80L555.20 191.30L555.20 193.70L552.70 196.20L550.30 196.20L547.80 193.70L547.80 191.30ZM560.30 192.80L562.70 192.80L565.20 195.30L565.20 197.70L562.70 200.20L560.30 200.20L557.80 197.70L557.80 195.30ZM570.30 211.80L572.70 211.80L575.20 214.30L575.20 216.70L572.70 219.20L570.30 219.20L567.80 216.70L567.80 214.30ZM580.30 165.80L582.70 165.80L585.20 168.30L585.20 170.70L582.70 173.20L580.30 173.20L577.80 170.70L577.80 168.30ZM591.30 200.80L593.70 200.80L596.20 203.30L596.20 205.70L593.70 208.20L591.30 208.20L588.80 205.70L588.80 203.30ZM601.30 193.80L603.70 193.80L606.20 196.30L606.20 198.70L603.70 201.20L601.30 201.20L598.80 198.70L598.80 196.30ZM611.30 175.80L613.70 175.80L616.20 178.30L616.20 180.70L613.70 183.20L611.30 183.20L608.80 180.70L608.80 178.30ZM621.30 212.80L623.70 212.80L626.20 215.30L626.20 217.70L623.70 220.20L621.30 220.20L618.80 217.70L618.80 215.30ZM631.30 179.80L633.70 179.80L636.20 182.30L636.20 184.70L633.70 187.20L631.30 187.20L628.80 184.70L628.80 182.30ZM642.30 193.80L644.70 193.80L647.20 196.30L647.20 198.70L644.70 201.20L642.30 201.20L639.80 198.70L639.80 196.30ZM652.30 174.80L654.70 174.80L657.20 177.30L657.20 179.70L654.70 182.20L652.30 182.20L649.80 179.70L649.80 177.30ZM662.30 175.80L664.70 175.80L667.20 178.30L667.20 180.70L664.70 183.20L662.30 183.20L659.80 180.70L659.80 178.30ZM672.30 186.80L674.70 186.80L677.20 189.30L677.20 191.70L674.70 194.20L672.30 194.20L669.80 191.70L669.80 189.30ZM682.30 158.80L684.70 158.80L687.20 161.30L687.20 163.70L684.70 166.20L682.30 166.20L679.80 163.70L679.80 161.30ZM693.30 137.80L695.70 137.80L698.20 140.30L698.20 142.70L695.70 145.20L693.30 145.20L690.80 142.70L690.80 140.30ZM703.30 184.80L705.70 184.80L708.20 187.30L708.20 189.70L705.70 192.20L703.30 192.20L700.80 189.70L700.80 187.30ZM713.30 184.80L715.70 184.80L718.20 187.30L718.20 189.70L715.70 192.20L713.30 192.20L710.80 189.70L710.80 187.30ZM723.30 147.80L725.70 147.80L728.20 150.30L728.20 152.70L725.70 155.20L723.30 155.20L720.80 152.70L720.80 150.30ZM733.30 186.80L735.70 186.80L738.20 189.30L738.20 191.70L735.70 194.20L733.30 194.20L730.80 191.70L730.80 189.30ZM744.30 167.80L746.70 167.80L749.20 170.30L749.20 172.70L746.70 175.20L744.30 175.20L741.80 172.70L741.80 170.30ZM754.30 166.80L756.70 166.80L759.20 169.30L759.20 171.70L756.70 174.20L754.30 174.20L751.80 171.70L751.80 169.30ZM764.30 168.80L766.70 168.80L769.20 171.30L769.20 173.70L766.70 176.20L764.30 176.20L761.80 173.70L761.80 171.30ZM774.30 230.80L776.70 230.80L779.20 233.30L779.20 235.70L776.70 238.20L774.30 238.20L771.80 235.70L771.80 233.30ZM785.30 183.80L787.70 183.80L790.20 186.30L790.20 188.70L787.70 191.20L785.30 191.20L782.80 188.70L782.80 186.30ZM795.30 126.80L797.70 126.80L800.20 129.30L800.20 131.70L797.70 134.20L795.30 134.20L792.80 131.70L792.80 129.30ZM805.30 207.80L807.70 207.80L810.20 210.30L810.20 212.70L807.70 215.20L805.30 215.20L802.80 212.70L802.80 210.30ZM815.30 174.80L817.70 174.80L820.20 177.30L820.20 179.70L817.70 182.20L815.30 182.20L812.80 179.70L812.80 177.30ZM825.30 134.80L827.70 134.80L830.20 137.30L830.20 139.70L827.70 142.20L825.30 142.20L822.80 139.70L822.80 137.30ZM836.30 195.80L838.70 195.80L841.20 198.30L841.20 200.70L838.70 203.20L836.30 203.20L833.80 200.70L833.80 198.30ZM846.30 236.80L848.70 236.80L851.20 239.30L851.20 241.70L848.70 244.20L846.30 244.20L843.80 241.70L843.80 239.30ZM856.30 224.80L858.70 224.80L861.20 227.30L861.20 229.70L858.70 232.20L856.30 232.20L853.80 229.70L853.80 227.30ZM866.30 182.80L868.70 182.80L871.20 185.30L871.20 187.70L868.70 190.20L866.30 190.20L863.80 187.70L863.80 185.30ZM876.30 231.80L878.70 231.80L881.20 234.30L881.20 236.70L878.70 239.20L876.30 239.20L873.80 236.70L873.80 234.30ZM887.30 268.80L889.70 268.80L892.20 271.30L892.20 273.70L889.70 276.20L887.30 276.20L884.80 273.70L884.80 271.30ZM897.30 195.80L899.70 195.80L902.20 198.30L902.20 200.70L899.70 203.20L897.30 203.20L894.80 200.70L894.80 198.30ZM907.30 215.80L909.70 215.80L912.20 218.30L912.20 220.70L909.70 223.20L907.30 223.20L904.80 220.70L904.80 218.30ZM917.30 179.80L919.70 179.80L922.20 182.30L922.20 184.70L919.70 187.20L917.30 187.20L914.80 184.70L914.80 182.30ZM927.30 184.80L929.70 184.80L932.20 187.30L932.20 189.70L929.70 192.20L927.30 192.20L924.80 189.70L924.80 187.30ZM938.30 289.80L940.70 289.80L943.20 292.30L943.20 294.70L940.70 297.20L938.30 297.20L935.80 294.70L935.80 292.30ZM948.30 228.80L950.70 228.80L953.20 231.30L953.20 233.70L950.70 236.20L948.30 236.20L945.80 233.70L945.80 231.30ZM958.30 197.80L960.70 197.80L963.20 200.30L963.20 202.70L960.70 205.20L958.30 205.20L955.80 202.70L955.80 200.30ZM968.30 95.80L970.70 95.80L973.20 98.30L973.20 100.70L970.70 103.20L968.30 103.20L965.80 100.70L965.80 98.30ZM978.30 228.80L980.70 228.80L983.20 231.30L983.20 233.70L980.70 236.20L978.30 236.20L975.80 233.70L975.80 231.30ZM989.30 143.80L991.70 143.80L994.20 146.30L994.20 148.70L991.70 151.20L989.30 151.20L986.80 148.70L986.80 146.30ZM999.30 228.80L1001.70 228.80L1004.20 231.30L1004.20 233.70L1001.70 236.20L999.30 236.20L996.80 233.70L996.80 231.30ZM1009.30 134.80L1011.70 134.80L1014.20 137.30L1014.20 139.70L1011.70 142.20L1009.30 142.20L1006.80 139.70L1006.80 137.30ZM1019.30 130.80L1021.70 130.80L1024.20 133.30L1024.20 135.70L1021.70 138.20L1019.30 138.20L1016.80 135.70L1016.80 133.30ZM1030.30 179.80L1032.70 179.80L1035.20 182.30L1035.20 184.70L1032.70 187.20L1030.30 187.20L1027.80 184.70L1027.80 182.30ZM1040.30 209.80L1042.70 209.80L1045.20 212.30L1045.20 214.70L1042.70 217.20L1040.30 217.20L1037.80 214.70L1037.80 212.30ZM1050.30 148.80L1052.70 148.80L1055.20 151.30L1055.20 153.70L1052.70 156.20L1050.30 156.20L1047.80 153.70L1047.80 151.30ZM1060.30 334.80L1062.70 334.80L1065.20 337.30L1065.20 339.70L1062.70 342.20L1060.30 342.20L1057.80 339.70L1057.80 337.30ZM1070.30 199.80L1072.70 199.80L1075.20 202.30L1075.20 204.70L1072.70 207.20L1070.30 207.20L1067.80 204.70L1067.80 202.30ZM1081.30 128.80L1083.70 128.80L1086.20 131.30L1086.20 133.70L1083.70 136.20L1081.30 136.20L1078.80 133.70L1078.80 131.30ZM1091.30 164.80L1093.70 164.80L1096.20 167.30L1096.20 169.70L1093.70 172.20L1091.30 172.20L1088.80 169.70L1088.80 167.30ZM1101.30 254.80L1103.70 254.80L1106.20 257.30L1106.20 259.70L1103.70 262.20L1101.30 262.20L1098.80 259.70L1098.80 257.30ZM1111.30 218.80L1113.70 218.80L1116.20 221.30L1116.20 223.70L1113.70 226.20L1111.30 226.20L1108.80 223.70L1108.80 221.30ZM1121.30 95.80L1123.70 95.80L1126.20 98.30L1126.20 100.70L1123.70 103.20L1121.30 103.20L1118.80 100.70L1118.80 98.30ZM1132.30 201.80L1134.70 201.80L1137.20 204.30L1137.20 206.70L1134.70 209.20L1132.30 209.20L1129.80 206.70L1129.80 204.30ZM1142.30 283.80L1144.70 283.80L1147.20 286.30L1147.20 288.70L1144.70 291.20L1142.30 291.20L1139.80 288.70L1139.80 286.30Z"/></g>
<g fill="#ff0000" shape-rendering="crispEdges"><path d="M132 877h1v1h-1zM131 878h2v1h-2zM131 879h3v1h-3zM130 880h4v1h-4zM130 881h5v1h-5zM129 882h6v1h-6zM142 888h1v1h-1zM141 889h2v1h-2zM141 890h3v1h-3zM140 891h4v1h-4zM140 892h5v1h-5zM139 893h6v1h-6zM153 830h1v1h-1zM152 831h2v1h-2zM152 832h3v1h-3zM151 833h4v1h-4zM151 834h5v1h-5zM150 835h6v1h-6zM163 776h1v1h-1zM162 777h2v1h-2zM162 778h3v1h-3zM161 779h4v1h-4zM161 780h5v1h-5zM160 781h6v1h-6zM173 746h1v1h-1zM172 747h2v1h-2zM172 748h3v1h-3zM171 749h4v1h-4zM171 750h5v1h-5zM170 751h6v1h-6zM183 701h1v1h-1zM182 702h2v1h-2zM182 703h3v1h-3zM181 704h4v1h-4zM181 705h5v1h-5zM180 706h6v1h-6zM193 650h1v1h-1zM192 651h2v1h-2zM192 652h3v1h-3zM191 653h4v1h-4zM191 654h5v1h-5zM190 655h6v1h-6zM204 607h1v1h-1zM203 608h2v1h-2zM203 609h3v1h-3zM202 610h4v1h-4zM202 611h5v1h-5zM201 612h6v1h-6zM214 560h1v1h-1zM213 561h2v1h-2zM213 562h3v1h-3zM212 563h4v1h-4zM212 564h5v1h-5zM211 565h6v1h-6zM224 526h1v1h-1zM223 527h2v1h-2zM223 528h3v1h-3zM222 529h4v1h-4zM222 530h5v1h-5zM221 531h6v1h-6zM234 521h1v1h-1zM233 522h2v1h-2zM233 523h3v1h-3zM232 524h4v1h-4zM232 525h5v1h-5zM231 526h6v1h-6zM244 517h1v1h-1zM243 518h2v1h-2zM243 519h3v1h-3zM242 520h4v1h-4zM242 521h5v1h-5zM241 522h6v1h-6zM255 511h1v1h-1zM254 512h2v1h-2zM254 513h3v1h-3zM253 514h4v1h-4zM253 515h5v1h-5zM252 516h6v1h-6zM265 508h1v1h-1zM264 509h2v1h-2zM264 510h3v1h-3zM263 511h4v1h-4zM263 512h5v1h-5zM262 513h6v1h-6zM275 546h1v1h-1zM274 547h2v1h-2zM274 548h3v1h-3zM273 549h4v1h-4zM273 550h5v1h-5zM272 551h6v1h-6zM285 546h1v1h-1zM284 547h2v1h-2zM284 548h3v1h-3zM283 549h4v1h-4zM283 550h5v1h-5zM282 551h6v1h-6zM296 547h1v1h-1zM295 548h2v1h-2zM295 549h3v1h-3zM294 550h4v1h-4zM294 551h5v1h-5zM293 552h6v1h-6zM306 485h1v1h-1zM305 486h2v1h-2zM305 487h3v1h-3zM304 488h4v1h-4zM304 489h5v1h-5zM303 490h6v1h-6zM316 490h1v1h-1zM315 491h2v1h-2zM315 492h3v1h-3zM314 493h4v1h-4zM314 494h5v1h-5zM313 495h6v1h-6zM326 492h1v1h-1zM325 493h2v1h-2zM325 494h3v1h-3zM324 495h4v1h-4zM324 496h5v1h-5zM323 497h6v1h-6zM336 496h1v1h-1zM335 497h2v1h-2zM335 498h3v1h-3zM334 499h4v1h-4zM334 500h5v1h-5zM333 501h6v1h-6zM347 508h1v1h-1zM346 509h2v1h-2zM346 510h3v1h-3zM345 511h4v1h-4zM345 512h5v1h-5zM344 513h6v1h-6zM357 514h1v1h-1zM356 515h2v1h-2zM356 516h3v1h-3zM355 517h4v1h-4zM355 518h5v1h-5zM354 519h6v1h-6zM367 515h1v1h-1zM366 516h2v1h-2zM366 517h3v1h-3zM365 518h4v1h-4zM365 519h5v1h-5zM364 520h6v1h-6zM377 520h1v1h-1zM376 521h2v1h-2zM376 522h3v1h-3zM375 523h4v1h-4zM375 524h5v1h-5zM374 525h6v1h-6zM387 516h1v1h-1zM386 517h2v1h-2zM386 518h3v1h-3zM385 519h4v1h-4zM385 520h5v1h-5zM384 521h6v1h-6zM398 519h1v1h-1zM397 520h2v1h-2zM397 521h3v1h-3zM396 522h4v1h-4zM396 523h5v1h-5zM395 524h6v1h-6zM408 515h1v1h-1zM407 516h2v1h-2zM407 517h3v1h-3zM406 518h4v1h-4zM406 519h5v1h-5zM405 520h6v1h-6zM418 515h1v1h-1zM417 516h2v1h-2zM417 517h3v1h-3zM416 518h4v1h-4zM416 519h5v1h-5zM415 520h6v1h-6zM428 518h1v1h-1zM427 519h2v1h-2zM427 520h3v1h-3zM426 521h4v1h-4zM426 522h5v1h-5zM425 523h6v1h-6zM438 542h1v1h-1zM437 543h2v1h-2zM437 544h3v1h-3zM436 545h4v1h-4zM436 546h5v1h-5zM435 547h6v1h-6zM449 537h1v1h-1zM448 538h2v1h-2zM448 539h3v1h-3zM447 540h4v1h-4zM447 541h5v1h-5zM446 542h6v1h-6zM459 537h1v1h-1zM458 538h2v1h-2zM458 539h3v1h-3zM457 540h4v1h-4zM457 541h5v1h-5zM456 542h6v1h-6zM469 536h1v1h-1zM468 537h2v1h-2zM468 538h3v1h-3zM467 539h4v1h-4zM467 540h5v1h-5zM466 541h6v1h-6zM479 540h1v1h-1zM478 541h2v1h-2zM478 542h3v1h-3zM477 543h4v1h-4zM477 544h5v1h-5zM476 545h6v1h-6zM489 540h1v1h-1zM488 541h2v1h-2zM488 542h3v1h-3zM487 543h4v1h-4zM487 544h5v1h-5zM486 545h6v1h-6zM500 545h1v1h-1zM499 546h2v1h-2zM499 547h3v1h-3zM498 548h4v1h-4zM498 549h5v1h-5zM497 550h6v1h-6zM510 551h1v1h-1zM509 552h2v1h-2zM509 553h3v1h-3zM508 554h4v1h-4zM508 555h5v1h-5zM507 556h6v1h-6zM520 546h1v1h-1zM519 547h2v1h-2zM519 548h3v1h-3zM518 549h4v1h-4zM518 550h5v1h-5zM517 551h6v1h-6zM530 557h1v1h-1zM529 558h2v1h-2zM529 559h3v1h-3zM528 560h4v1h-4zM528 561h5v1h-5zM527 562h6v1h-6zM541 562h1v1h-1zM540 563h2v1h-2zM540 564h3v1h-3zM539 565h4v1h-4zM539 566h5v1h-5zM538 567h6v1h-6zM551 555h1v1h-1zM550 556h2v1h-2zM550 557h3v1h-3zM549 558h4v1h-4zM549 559h5v1h-5zM548 560h6v1h-6zM561 571h1v1h-1zM560 572h2v1h-2zM560 573h3v1h-3zM559 574h4v1h-4zM559 575h5v1h-5zM558 576h6v1h-6zM571 553h1v1h-1zM570 554h2v1h-2zM570 555h3v1h-3zM569 556h4v1h-4zM569 557h5v1h-5zM568 558h6v1h-6zM581 557h1v1h-1zM580 558h2v1h-2zM580 559h3v1h-3zM579 560h4v1h-4zM579 561h5v1h-5zM578 562h6v1h-6zM592 576h1v1h-1zM591 577h2v1h-2zM591 578h3v1h-3zM590 579h4v1h-4zM590 580h5v1h-5zM589 581h6v1h-6zM602 562h1v1h-1zM601 563h2v1h-2zM601 564h3v1h-3zM600 565h4v1h-4zM600 566h5v1h-5zM599 567h6v1h-6zM612 571h1v1h-1zM611 572h2v1h-2zM611 573h3v1h-3zM610 574h4v1h-4zM610 575h5v1h-5zM609 576h6v1h-6zM622 579h1v1h-1zM621 580h2v1h-2zM621 581h3v1h-3zM620 582h4v1h-4zM620 583h5v1h-5zM619 584h6v1h-6zM632 567h1v1h-1zM631 568h2v1h-2zM631 569h3v1h-3zM630 570h4v1h-4zM630 571h5v1h-5zM629 572h6v1h-6zM643 565h1v1h-1zM642 566h2v1h-2zM642 567h3v1h-3zM641 568h4v1h-4zM641 569h5v1h-5zM640 570h6v1h-6zM653 579h1v1h-1zM652 580h2v1h-2zM652 581h3v1h-3zM651 582h4v1h-4zM651 583h5v1h-5zM650 584h6v1h-6zM663 567h1v1h-1zM662 568h2v1h-2zM662 569h3v1h-3zM661 570h4v1h-4zM661 571h5v1h-5zM660 572h6v1h-6zM673 569h1v1h-1zM672 570h2v1h-2zM672 571h3v1h-3zM671 572h4v1h-4zM671 573h5v1h-5zM670 574h6v1h-6zM683 569h1v1h-1zM682 570h2v1h-2zM682 571h3v1h-3zM681 572h4v1h-4zM681 573h5v1h-5zM680 574h6v1h-6zM694 568h1v1h-1zM693 569h2v1h-2zM693 570h3v1h-3zM692 571h4v1h-4zM692 572h5v1h-5zM691 573h6v1h-6zM704 573h1v1h-1zM703 574h2v1h-2zM703 575h3v1h-3zM702 576h4v1h-4zM702 577h5v1h-5zM701 578h6v1h-6zM714 575h1v1h-1zM713 576h2v1h-2zM713 577h3v1h-3zM712 578h4v1h-4zM712 579h5v1h-5zM711 580h6v1h-6zM724 571h1v1h-1zM723 572h2v1h-2zM723 573h3v1h-3zM722 574h4v1h-4zM722 575h5v1h-5zM721 576h6v1h-6zM734 565h1v1h-1zM733 566h2v1h-2zM733 567h3v1h-3zM732 568h4v1h-4zM732 569h5v1h-5zM731 570h6v1h-6zM745 574h1v1h-1zM744 575h2v1h-2zM744 576h3v1h-3zM743 577h4v1h-4zM743 578h5v1h-5zM742 579h6v1h-6zM755 560h1v1h-1zM754 561h2v1h-2zM754 562h3v1h-3zM753 563h4v1h-4zM753 564h5v1h-5zM752 565h6v1h-6zM765 574h1v1h-1zM764 575h2v1h-2zM764 576h3v1h-3zM763 577h4v1h-4zM763 578h5v1h-5zM762 579h6v1h-6zM775 566h1v1h-1zM774 567h2v1h-2zM774 568h3v1h-3zM773 569h4v1h-4zM773 570h5v1h-5zM772 571h6v1h-6zM786 561h1v1h-1zM785 562h2v1h-2zM785 563h3v1h-3zM784 564h4v1h-4zM784 565h5v1h-5zM783 566h6v1h-6zM796 561h1v1h-1zM795 562h2v1h-2zM795 563h3v1h-3zM794 564h4v1h-4zM794 565h5v1h-5zM793 566h6v1h-6zM806 567h1v1h-1zM805 568h2v1h-2zM805 569h3v1h-3zM804 570h4v1h-4zM804 571h5v1h-5zM803 572h6v1h-6zM816 562h1v1h-1zM815 563h2v1h-2zM815 564h3v1h-3zM814 565h4v1h-4zM814 566h5v1h-5zM813 567h6v1h-6zM826 567h1v1h-1zM825 568h2v1h-2zM825 569h3v1h-3zM824 570h4v1h-4zM824 571h5v1h-5zM823 572h6v1h-6zM837 556h1v1h-1zM836 557h2v1h-2zM836 558h3v1h-3zM835 559h4v1h-4zM835 560h5v1h-5zM834 561h6v1h-6zM847 563h1v1h-1zM846 564h2v1h-2zM846 565h3v1h-3zM845 566h4v1h-4zM845 567h5v1h-5zM844 568h6v1h-6zM857 556h1v1h-1zM856 557h2v1h-2zM856 558h3v1h-3zM855 559h4v1h-4zM855 560h5v1h-5zM854 561h6v1h-6zM867 552h1v1h-1zM866 553h2v1h-2zM866 554h3v1h-3zM865 555h4v1h-4zM865 556h5v1h-5zM864 557h6v1h-6zM877 543h1v1h-1zM876 544h2v1h-2zM876 545h3v1h-3zM875 546h4v1h-4zM875 547h5v1h-5zM874 548h6v1h-6zM888 560h1v1h-1zM887 561h2v1h-2zM887 562h3v1h-3zM886 563h4v1h-4zM886 564h5v1h-5zM885 565h6v1h-6zM898 554h1v1h-1zM897 555h2v1h-2zM897 556h3v1h-3zM896 557h4v1h-4zM896 558h5v1h-5zM895 559h6v1h-6zM908 547h1v1h-1zM907 548h2v1h-2zM907 549h3v1h-3zM906 550h4v1h-4zM906 551h5v1h-5zM905 552h6v1h-6zM918 537h1v1h-1zM917 538h2v1h-2zM917 539h3v1h-3zM916 540h4v1h-4zM916 541h5v1h-5zM915 542h6v1h-6zM928 548h1v1h-1zM927 549h2v1h-2zM927 550h3v1h-3zM926 551h4v1h-4zM926 552h5v1h-5zM925 553h6v1h-6zM939 545h1v1h-1zM938 546h2v1h-2zM938 547h3v1h-3zM937 548h4v1h-4zM937 549h5v1h-5zM936 550h6v1h-6zM949 537h1v1h-1zM948 538h2v1h-2zM948 539h3v1h-3zM947 540h4v1h-4zM947 541h5v1h-5zM946 542h6v1h-6zM959 532h1v1h-1zM958 533h2v1h-2zM958 534h3v1h-3zM957 535h4v1h-4zM957 536h5v1h-5zM956 537h6v1h-6zM969 543h1v1h-1zM968 544h2v1h-2zM968 545h3v1h-3zM967 546h4v1h-4zM967 547h5v1h-5zM966 548h6v1h-6zM979 539h1v1h-1zM978 540h2v1h-2zM978 541h3v1h-3zM977 542h4v1h-4zM977 543h5v1h-5zM976 544h6v1h-6zM990 522h1v1h-1zM989 523h2v1h-2zM989 524h3v1h-3zM988 525h4v1h-4zM988 526h5v1h-5zM987 527h6v1h-6zM1000 536h1v1h-1zM999 537h2v1h-2zM999 538h3v1h-3zM998 539h4v1h-4zM998 540h5v1h-5zM997 541h6v1h-6zM1010 521h1v1h-1zM1009 522h2v1h-2zM1009 523h3v1h-3zM1008 524h4v1h-4zM1008 525h5v1h-5zM1007 526h6v1h-6zM1020 537h1v1h-1zM1019 538h2v1h-2zM1019 539h3v1h-3zM1018 540h4v1h-4zM1018 541h5v1h-5zM1017 542h6v1h-6zM1031 509h1v1h-1zM1030 510h2v1h-2zM1030 511h3v1h-3zM1029 512h4v1h-4zM1029 513h5v1h-5zM1028 514h6v1h-6zM1041 534h1v1h-1zM1040 535h2v1h-2zM1040 536h3v1h-3zM1039 537h4v1h-4zM1039 538h5v1h-5zM1038 539h6v1h-6zM1051 528h1v1h-1zM1050 529h2v1h-2zM1050 530h3v1h-3zM1049 531h4v1h-4zM1049 532h5v1h-5zM1048 533h6v1h-6zM1061 520h1v1h-1zM1060 521h2v1h-2zM1060 522h3v1h-3zM1059 523h4v1h-4zM1059 524h5v1h-5zM1058 525h6v1h-6zM1071 523h1v1h-1zM1070 524h2v1h-2zM1070 525h3v1h-3zM1069 526h4v1h-4zM1069 527h5v1h-5zM1068 528h6v1h-6zM1082 518h1v1h-1zM1081 519h2v1h-2zM1081 520h3v1h-3zM1080 521h4v1h-4zM1080 522h5v1h-5zM1079 523h6v1h-6zM1092 517h1v1h-1zM1091 518h2v1h-2zM1091 519h3v1h-3zM1090 520h4v1h-4zM1090 521h5v1h-5zM1089 522h6v1h-6zM1102 528h1v1h-1zM1101 529h2v1h-2zM1101 530h3v1h-3zM1100 531h4v1h-4zM1100 532h5v1h-5zM1099 533h6v1h-6zM1112 496h1v1h-1zM1111 497h2v1h-2zM1111 498h3v1h-3zM1110 499h4v1h-4zM1110 500h5v1h-5zM1109 501h6v1h-6zM1122 487h1v1h-1zM1121 488h2v1h-2zM1121 489h3v1h-3zM1120 490h4v1h-4zM1120 491h5v1h-5zM1119 492h6v1h-6zM1133 506h1v1h-1zM1132 507h2v1h-2zM1132 508h3v1h-3zM1131 509h4v1h-4zM1131 510h5v1h-5zM1130 511h6v1h-6zM1143 506h1v1h-1zM1142 507h2v1h-2zM1142 508h3v1h-3zM1141 509h4v1h-4zM1141 510h5v1h-5zM1140 511h6v1h-6z"/></g>
<g shape-rendering="crispEdges">
<rect x="1026" y="105" width="126" height="48" fill="#000"/>
<rect x="1020" y="99" width="129" height="51" fill="#000"/>
<rect x="1021" y="100" width="127" height="49" fill="#fff"/>
<rect x="1022" y="101" width="125" height="47" fill="#f2f2f2"/>
</g>
<path d="M1026.30 108.80L1028.70 108.80L1031.20 111.30L1031.20 113.70L1028.70 116.20L1026.30 116.20L1023.80 113.70L1023.80 111.30Z" fill="#0000ff"/>
<path d="M1027 133h1v1h-1zM1026 134h2v1h-2zM1026 135h3v1h-3zM1025 136h4v1h-4zM1025 137h5v1h-5zM1024 138h6v1h-6z" fill="#ff0000" shape-rendering="crispEdges"/>
<g font-family="Liberation Sans, sans-serif" font-weight="bold" fill="#000" text-rendering="geometricPrecision">
<text id="ttl" transform="translate(75.00,41.90) scale(1,1.045)" font-size="8.04" textLength="1124.3" lengthAdjust="spacing">Downstream Proton ID Eff. V TrackP | MVAout &gt; 0.200 | All NaturalMix AllPhysTracksInEvent:AllPhysTracksInEvent ReweightRICH2 EvalNoPreSel | Train:HeavyNoGhosts-Eval:HeavyGhosts | TMVA-NoPreSels-CombDLL-NoGECs | MLP Norm BP NCycles750 CE tanh SF1.2 CVTest15:1e-16 !UseReg</text>
<text transform="translate(121.33,907.60) scale(1,1.03)" font-size="29.3" text-anchor="end" letter-spacing="-0.52">0</text>
<text transform="translate(121.33,827.92) scale(1,1.03)" font-size="29.3" text-anchor="end" letter-spacing="-0.52">0</text><path d="M101.67 827.12L101.67 806.76L99.09 806.76Q97.82 809.51 92.63 809.91L92.63 813.00L97.56 813.00L97.56 827.12Z"/>
<text transform="translate(121.33,748.24) scale(1,1.03)" font-size="29.3" text-anchor="end" letter-spacing="-0.52">20</text>
<text transform="translate(121.33,668.56) scale(1,1.03)" font-size="29.3" text-anchor="end" letter-spacing="-0.52">30</text>
<text transform="translate(121.33,588.88) scale(1,1.03)" font-size="29.3" text-anchor="end" letter-spacing="-0.52">40</text>
<text transform="translate(121.33,509.20) scale(1,1.03)" font-size="29.3" text-anchor="end" letter-spacing="-0.52">50</text>
<text transform="translate(121.33,429.52) scale(1,1.03)" font-size="29.3" text-anchor="end" letter-spacing="-0.52">60</text>
<text transform="translate(121.33,349.84) scale(1,1.03)" font-size="29.3" text-anchor="end" letter-spacing="-0.52">70</text>
<text transform="translate(121.33,270.16) scale(1,1.03)" font-size="29.3" text-anchor="end" letter-spacing="-0.52">80</text>
<text transform="translate(121.33,190.48) scale(1,1.03)" font-size="29.3" text-anchor="end" letter-spacing="-0.52">90</text>
<text transform="translate(121.33,110.80) scale(1,1.03)" font-size="29.3" text-anchor="end" letter-spacing="-0.52">00</text><path d="M85.91 110.00L85.91 89.64L83.33 89.64Q82.05 92.39 76.87 92.79L76.87 95.88L81.80 95.88L81.80 110.00Z"/>
<text transform="translate(335.77,935.80) scale(1,1.03)" font-size="29.3" text-anchor="end" letter-spacing="-0.52">20</text>
<text transform="translate(540.17,935.80) scale(1,1.03)" font-size="29.3" text-anchor="end" letter-spacing="-0.52">40</text>
<text transform="translate(743.97,935.80) scale(1,1.03)" font-size="29.3" text-anchor="end" letter-spacing="-0.52">60</text>
<text transform="translate(948.07,935.80) scale(1,1.03)" font-size="29.3" text-anchor="end" letter-spacing="-0.52">80</text>
<text transform="translate(1161.51,935.80) scale(1,1.03)" font-size="29.3" text-anchor="end" letter-spacing="-0.52">00</text><path d="M1126.09 935.00L1126.09 914.64L1123.51 914.64Q1122.23 917.39 1117.05 917.79L1117.05 920.88L1121.98 920.88L1121.98 935.00Z"/>
<text id="xt" transform="translate(1148.00,974.00) scale(1,1.045)" font-size="28.0" text-anchor="end">Downstream Proton Momentum / MeV/c</text>
<text id="yt" transform="translate(47.80,98.50) rotate(-90) scale(1,1.045)" font-size="27.9" text-anchor="end">Efficiency / %</text>
<text transform="translate(1197.87,897.20) scale(1,1.03)" font-size="29.3" text-anchor="end" letter-spacing="-0.52">0</text><path d="M1178.21 896.40L1178.21 876.04L1175.63 876.04Q1174.36 878.79 1169.17 879.19L1169.17 882.28L1174.10 882.28L1174.10 896.40Z"/>
<text id="e3" transform="translate(1197.70,882.90) scale(1,1.045)" font-size="20.2">3</text>
<text id="lg1" transform="translate(1033.00,116.70) scale(1,1.045)" font-size="19.25" stroke="#fff" stroke-width="1.6" stroke-opacity="0.7" paint-order="stroke" stroke-linejoin="round">True Proton</text>
<text id="lg2" transform="translate(1033.00,142.00) scale(1,1.045)" font-size="19.25" stroke="#fff" stroke-width="1.6" stroke-opacity="0.7" paint-order="stroke" stroke-linejoin="round">Fake Proton</text>
</g>
<path d="M1153.2 881.8L1167 895.6M1167 881.8L1153.2 895.6" stroke="#000" stroke-width="1.5" fill="none"/>
</svg>
</body></html>
